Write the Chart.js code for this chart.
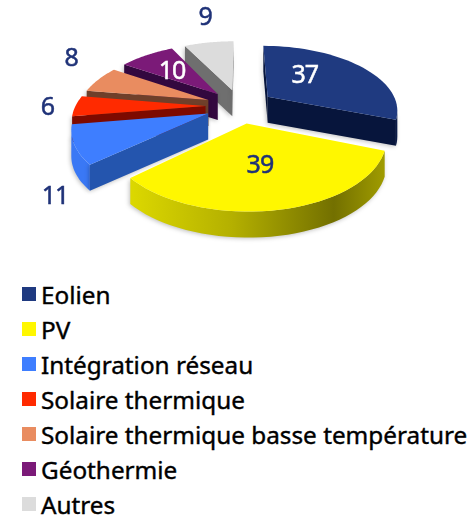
<!DOCTYPE html>
<html>
<head>
<meta charset="utf-8">
<script src="https://cdn.jsdelivr.net/npm/chart.js@4"></script>
<style>
    html, body { margin: 0; padding: 0; background: #fff; }
    #wrap { position: relative; width: 475px; height: 517px; overflow: hidden; }
    #myChart { position: absolute; left: 0; top: 0; }
    #legend { position: absolute; left: 22px; top: 277px; font-family: "Noto Sans", sans-serif; font-size: 24.3px; color: #000; -webkit-text-stroke: 0.4px #000; }
    #legend div { height: 35px; line-height: 35px; white-space: nowrap; }
    #legend i { display: inline-block; width: 14px; height: 14px; margin-right: 5px; vertical-align: 3px; -webkit-text-stroke: 0; }
</style>
</head>
<body>
<div id="wrap">
    <canvas id="myChart" width="475" height="270"></canvas>
    <div id="legend"></div>
</div>
<script>
const categories = ['Eolien', 'PV', 'Intégration réseau', 'Solaire thermique', 'Solaire thermique basse température', 'Géothermie', 'Autres'];
const shares = [37, 39, 11, 6, 8, 10, 9];
const topColors = ['#1f3a80', '#fff700', '#3e7eff', '#ff2a00', '#e98c60', '#7b1a78', '#dcdcdc'];
const cutColors = ['#07153c', '#7a7a00', '#2455ae', '#7d0a00', '#6f3f2a', '#33083f', '#6f6f6f'];
const rimColors = ['#0c1d4c', null, '#3a78f5', '#a01000', '#8a5036', '#3c0a48', '#8a8a8a'];
const labelColors = ['#fff', '#1f3278', '#1f3278', '#1f3278', '#1f3278', '#fff', '#1f3278'];
// nudge of each number from its slice, in px
const labelNudges = [[-29, 1], [-8, -14], [-62, 62], [-67, 2], [-59, -26], [6, 6], [-10, -37]];
// back to front
const drawOrder = [6, 5, 0, 4, 3, 2, 1];

const squash = 0.49;
const tilt = 0.19;
const depth = 26;

// tilted plane: things at the front get bigger
const project = (el, x, y) => {
    const f = 1 / (1 - tilt * y / el.outerRadius);
    return { x: el.x + x * f, y: el.y + y * squash * f };
};

const outline = (el, offset) => {
    const mid = (el.startAngle + el.endAngle) / 2;
    const ax = Math.cos(mid) * offset;
    const ay = Math.sin(mid) * offset;
    const pts = [project(el, ax, ay)];
    const steps = 40;
    for (let s = 0; s <= steps; s++) {
        const a = el.startAngle + (el.endAngle - el.startAngle) * s / steps;
        pts.push(project(el, ax + Math.cos(a) * el.outerRadius, ay + Math.sin(a) * el.outerRadius));
    }
    return pts;
};

// fill the wall hanging under a run of outline points
const fillWall = (ctx, run, fill) => {
    ctx.fillStyle = fill;
    ctx.beginPath();
    run.forEach((p, n) => n ? ctx.lineTo(p.x, p.y) : ctx.moveTo(p.x, p.y));
    [...run].reverse().forEach(p => ctx.lineTo(p.x, p.y + depth));
    ctx.closePath();
    ctx.fill();
};

const pie3d = {
    id: 'pie3d',
    beforeDatasetsDraw(chart) {
        const { ctx } = chart;
        const meta = chart.getDatasetMeta(0);
        const offset = chart.data.datasets[0].offset;

        for (const i of drawOrder) {
            const el = meta.data[i];
            const pts = outline(el, offset);
            const rim = pts.slice(1);

            let rimFill = rimColors[i];
            if (!rimFill) {
                const xs = pts.map(p => p.x);
                const left = Math.min(...xs);
                const right = Math.max(...xs);
                rimFill = ctx.createLinearGradient(left, 0, right, 0);
                rimFill.addColorStop(0, '#dcd800');
                rimFill.addColorStop(0.4, '#b4b000');
                rimFill.addColorStop(0.8, '#737000');
                rimFill.addColorStop(1, '#a09c00');
            }

            ctx.save();
            ctx.shadowColor = 'rgba(0,0,0,0.25)';
            ctx.shadowBlur = 4;
            ctx.shadowOffsetX = -1;
            ctx.shadowOffsetY = 1;

            // only the part of the rim facing the viewer
            const run = rim.filter((p, s) => (rim[s + 1] && rim[s + 1].x < p.x) || (rim[s - 1] && p.x < rim[s - 1].x));
            if (run.length > 1) fillWall(ctx, run, rimFill);

            const apex = pts[0];
            const first = rim[0];
            const last = rim[rim.length - 1];
            if (first.x < apex.x) fillWall(ctx, [apex, first], cutColors[i]);
            if (apex.x < last.x) fillWall(ctx, [last, apex], cutColors[i]);
            ctx.restore();

            ctx.fillStyle = topColors[i];
            ctx.beginPath();
            pts.forEach((p, n) => n ? ctx.lineTo(p.x, p.y) : ctx.moveTo(p.x, p.y));
            ctx.closePath();
            ctx.fill();
        }

        ctx.save();
        ctx.font = '25px "Noto Sans"';
        ctx.letterSpacing = '-1px';
        ctx.lineWidth = 0.5;
        ctx.textAlign = 'center';
        ctx.textBaseline = 'middle';
        meta.data.forEach((el, i) => {
            const mid = (el.startAngle + el.endAngle) / 2;
            const r = offset + el.outerRadius * 0.7;
            const p = project(el, Math.cos(mid) * r, Math.sin(mid) * r);
            ctx.fillStyle = labelColors[i];
            ctx.strokeStyle = labelColors[i];
            ctx.fillText(String(shares[i]), p.x + labelNudges[i][0], p.y + labelNudges[i][1]);
            ctx.strokeText(String(shares[i]), p.x + labelNudges[i][0], p.y + labelNudges[i][1]);
        });
        ctx.restore();

        return false;
    }
};

new Chart(document.getElementById('myChart').getContext('2d'), {
    type: 'pie',
    data: {
        labels: categories,
        datasets: [{
            data: shares,
            backgroundColor: topColors,
            borderWidth: 0,
            offset: 34.5,
        }]
    },
    options: {
        responsive: false,
        animation: false,
        radius: 130,
        layout: { padding: { left: 5, bottom: 58 } },
        plugins: {
            legend: false,
            tooltip: { enabled: false }
        }
    },
    plugins: [pie3d]
});

const legend = document.getElementById('legend');
categories.forEach((name, i) => {
    const row = document.createElement('div');
    const box = document.createElement('i');
    box.style.background = topColors[i];
    row.appendChild(box);
    row.appendChild(document.createTextNode(name));
    legend.appendChild(row);
});
</script>
</body>
</html>
